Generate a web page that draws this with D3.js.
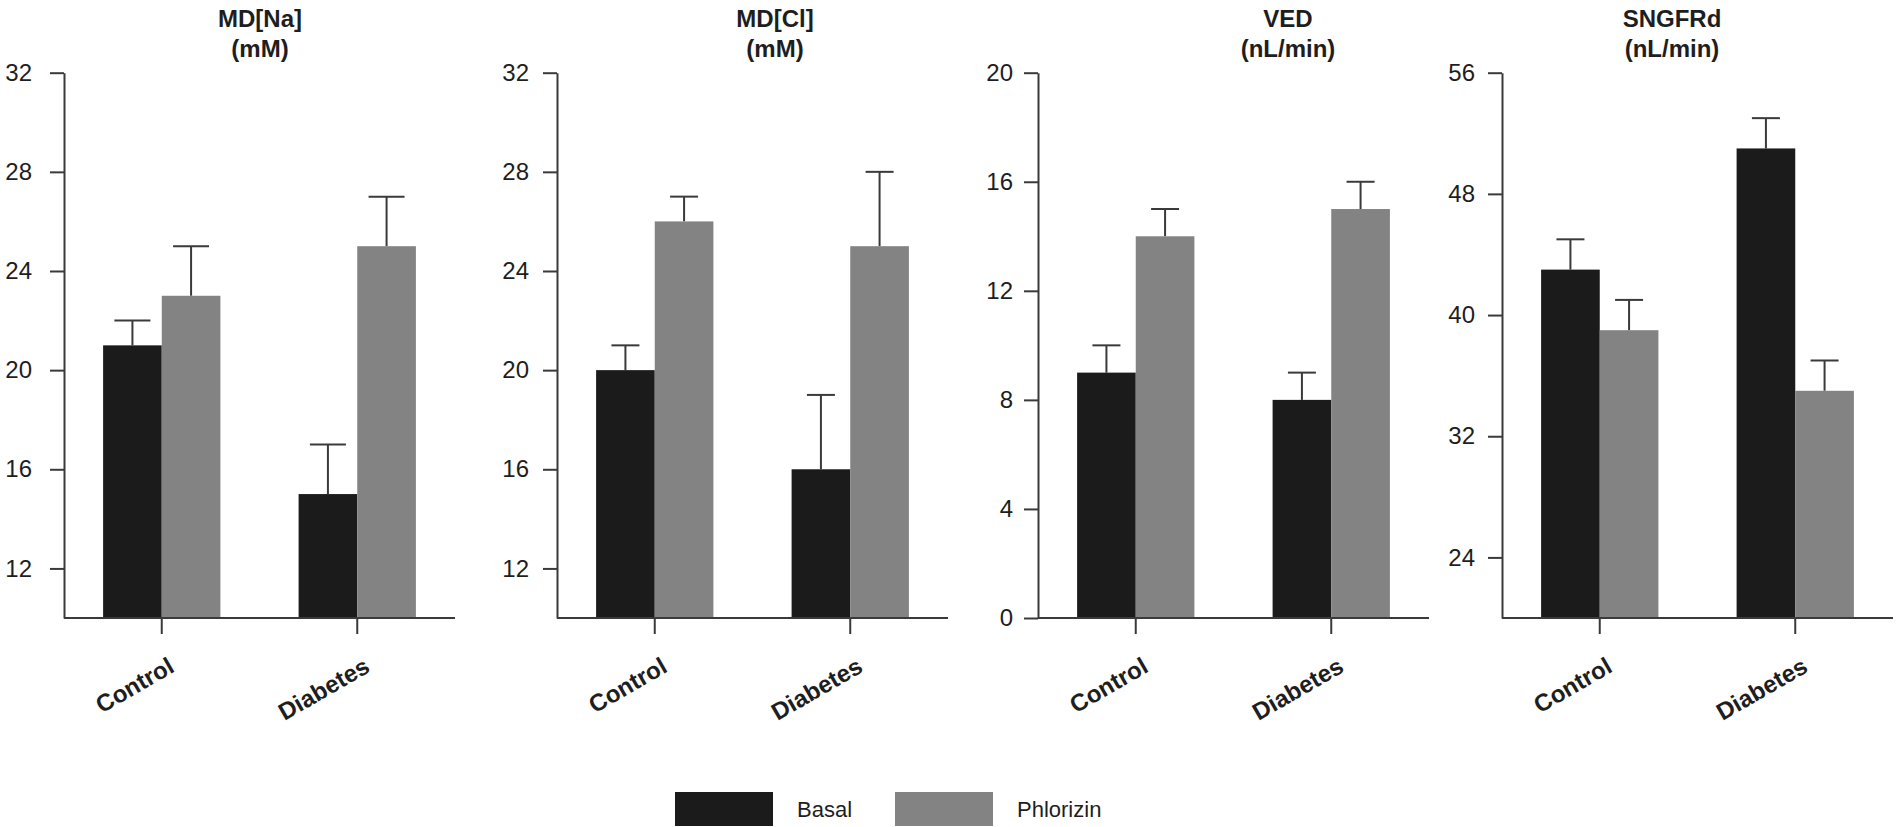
<!DOCTYPE html>
<html>
<head>
<meta charset="utf-8">
<script src="https://cdn.jsdelivr.net/npm/d3@7"></script>
<style>
  body { margin: 0; background: #fff; }
  text { font-family: "Liberation Sans", Arial, sans-serif; fill: #1e1e1e; }
</style>
</head>
<body>
<div id="my_dataviz"></div>
<script>
// ---- data (mean, and SEM drawn as upper error bar)
var groups = ["Control", "Diabetes"];
var treatments = ["Basal", "Phlorizin"];

var titles = [["MD[Na]", "(mM)"], ["MD[Cl]", "(mM)"], ["VED", "(nL/min)"], ["SNGFRd", "(nL/min)"]];

var naBasal = [21, 15],   naBasalSe = [1, 2];
var naPhlor = [23, 25],   naPhlorSe = [2, 2];
var clBasal = [20, 16],   clBasalSe = [1, 3];
var clPhlor = [26, 25],   clPhlorSe = [1, 3];
var vedBasal = [9, 8],    vedBasalSe = [1, 1];
var vedPhlor = [14, 15],  vedPhlorSe = [1, 1];
var sngfrBasal = [43, 51], sngfrBasalSe = [2, 2];
var sngfrPhlor = [39, 35], sngfrPhlorSe = [2, 2];

var yDomains = [[10, 32], [10, 32], [0, 20], [20, 56]];
var yTicks = [[12, 16, 20, 24, 28, 32], [12, 16, 20, 24, 28, 32], [0, 4, 8, 12, 16, 20], [24, 32, 40, 48, 56]];

var means = [[naBasal, naPhlor], [clBasal, clPhlor], [vedBasal, vedPhlor], [sngfrBasal, sngfrPhlor]];
var sems = [[naBasalSe, naPhlorSe], [clBasalSe, clPhlorSe], [vedBasalSe, vedPhlorSe], [sngfrBasalSe, sngfrPhlorSe]];

// ---- layout
var W = 1898, H = 827;
var top_ = 72.7, bottom = 618, plotW = 391;
var axisX = [64, 557, 1038, 1502];
var titleX = [260, 775, 1288, 1672];
var capW = [36, 28, 28, 28];
var tickPad = [18, 14, 11, 13];

var color = d3.scaleOrdinal().domain(treatments).range(["#1b1b1b", "#838383"]);
var axisColor = "#3a3a3a";

var svg = d3.select("#my_dataviz")
  .append("svg")
    .attr("width", W)
    .attr("height", H);

var x0 = d3.scaleBand()
    .domain(groups)
    .range([0, plotW])
    .paddingInner(0.4)
    .paddingOuter(0.2);

var x1 = d3.scaleBand()
    .domain(treatments)
    .range([0, x0.bandwidth()]);

function drawPanel(i) {
    var g = svg.append("g")
        .attr("transform", "translate(" + axisX[i] + ",0)");

    var y = d3.scaleLinear()
        .domain(yDomains[i])
        .range([bottom, top_]);

    var rows = [];
    groups.forEach(function(grp, gi) {
        treatments.forEach(function(t, ti) {
            rows.push({group: grp, treat: t, mean: means[i][ti][gi], se: sems[i][ti][gi]});
        });
    });

    // error bars first, bars drawn over the lower part
    var err = g.selectAll(".err")
      .data(rows)
      .enter().append("g")
        .attr("transform", function(d) {
            return "translate(" + (x0(d.group) + x1(d.treat) + x1.bandwidth() / 2) + ",0)";
        });
    err.append("line")
        .attr("y1", function(d) { return y(d.mean); })
        .attr("y2", function(d) { return y(d.mean + d.se); })
        .attr("stroke", axisColor).attr("stroke-width", 2);
    err.append("line")
        .attr("x1", -capW[i] / 2).attr("x2", capW[i] / 2)
        .attr("y1", function(d) { return y(d.mean + d.se); })
        .attr("y2", function(d) { return y(d.mean + d.se); })
        .attr("stroke", axisColor).attr("stroke-width", 2);

    g.selectAll(".bar")
      .data(rows)
      .enter().append("rect")
        .attr("x", function(d) { return x0(d.group) + x1(d.treat); })
        .attr("width", x1.bandwidth())
        .attr("y", function(d) { return y(d.mean); })
        .attr("height", function(d) { return bottom - y(d.mean); })
        .attr("fill", function(d) { return color(d.treat); });

    // y axis
    var ya = g.append("g")
        .call(d3.axisLeft(y).tickValues(yTicks[i]).tickSize(14).tickSizeOuter(0).tickPadding(tickPad[i]));
    ya.selectAll("path, line").attr("stroke", axisColor).attr("stroke-width", 2);
    ya.selectAll("text").style("font-size", "24px").attr("fill", "#1e1e1e");

    // x axis
    var xa = g.append("g")
        .attr("transform", "translate(0," + bottom + ")")
        .call(d3.axisBottom(x0).tickSize(16).tickSizeOuter(0));
    xa.select(".domain").attr("d", "M0,0H" + plotW);
    xa.selectAll("path, line").attr("stroke", axisColor).attr("stroke-width", 2);
    xa.selectAll("text")
        .attr("x", 0).attr("y", 0).attr("dy", 0)
        .attr("transform", "translate(14,53) rotate(-30)")
        .attr("text-anchor", "end")
        .style("font-size", "24px")
        .style("font-weight", "bold")
        .attr("fill", "#1e1e1e");

    // title
    var t = svg.append("text")
        .attr("x", titleX[i])
        .attr("text-anchor", "middle")
        .style("font-size", "24px")
        .style("font-weight", "bold");
    t.append("tspan").attr("x", titleX[i]).attr("y", 27).text(titles[i][0]);
    t.append("tspan").attr("x", titleX[i]).attr("y", 57).text(titles[i][1]);
}

for (var i = 0; i < titles.length; i++) drawPanel(i);

// legend
var legX = [675, 895];
var leg = svg.selectAll(".leg")
  .data(treatments)
  .enter().append("g")
    .attr("transform", function(d, k) { return "translate(" + legX[k] + ",792)"; });
leg.append("rect")
    .attr("width", 98).attr("height", 34)
    .attr("fill", function(d) { return color(d); });
leg.append("text")
    .attr("x", 122).attr("y", 25)
    .style("font-size", "22px")
    .text(function(d) { return d; });
</script>
</body>
</html>
